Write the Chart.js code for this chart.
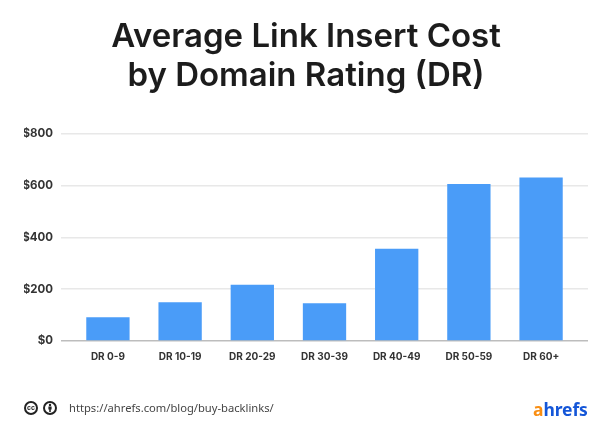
<!DOCTYPE html>
<html lang="en">
<head>
<meta charset="UTF-8">
<title>Average Link Insert Cost</title>
<style>
  html,body{margin:0;padding:0;background:#fff}
  #wrap{position:relative;width:601px;height:438px;overflow:hidden}
  canvas{position:absolute;left:0;top:0}
  .icon{position:absolute;top:401px;width:14px;height:14px;box-sizing:border-box;border:2px solid #222;border-radius:50%;
    font:bold 7px/10px "Liberation Sans",sans-serif;text-align:center;color:#222}
  .icon svg{display:block}
  #url{position:absolute;left:69px;top:400px;font:400 11.2px/16px "Noto Sans",sans-serif;color:#444;white-space:nowrap}
  #logo{position:absolute;left:533px;top:398px;font:bold 17.5px/22px "Noto Sans",sans-serif;color:#1456d8;letter-spacing:-.1px}
  #logo span{color:#f98e12}
</style>
</head>
<body>
<div id="wrap">
  <canvas id="chart" width="601" height="438"></canvas>
  <div class="icon" style="left:24px">cc</div>
  <div class="icon" style="left:43px"><svg width="10" height="10" viewBox="0 0 10 10"><circle cx="5" cy="2" r="1.2" fill="#222"/><path d="M3.4 3.6h3.2v3H5.8v2.4H4.2V6.6H3.4z" fill="#222"/></svg></div>
  <div id="url">https://ahrefs.com/blog/buy-backlinks/</div>
  <div id="logo"><span>a</span>hrefs</div>
</div>
<script src="https://cdn.jsdelivr.net/npm/chart.js"></script>
<script>
const categories=['DR 0-9','DR 10-19','DR 20-29','DR 30-39','DR 40-49','DR 50-59','DR 60+']
const costs=[92,150,217,146,356,606,632]
const titleLines=['Average Link Insert Cost','by Domain Rating (DR)']

new Chart(document.getElementById('chart'),{
  type:'bar',
  data:{
    datasets:[{
      data:costs.map((c,i)=>({x:i,y:c})),
      backgroundColor:'#4a9cf8',
      barPercentage:0.6,
      categoryPercentage:1
    }]
  },
  options:{
    responsive:false,
    animation:false,
    layout:{padding:{left:24,right:13}},
    plugins:{
      legend:{display:false},
      tooltip:{enabled:false},
      title:{
        display:true,
        text:titleLines,
        color:'#1c1c1c',
        font:{family:'Inter',size:33,weight:'600',lineHeight:1.18},
        padding:{top:18,bottom:38}
      }
    },
    scales:{
      x:{
        type:'linear',
        offset:false,
        min:-0.65,
        max:6.65,
        afterBuildTicks:s=>{s.ticks=categories.map((_,i)=>({value:i}))},
        afterFit:s=>{s.height=97},
        grid:{display:false},
        border:{display:false},
        ticks:{
          autoSkip:false,
          maxRotation:0,
          padding:2,
          color:'#333',
          font:{family:'Inter',size:10,weight:'700'},
          callback:v=>categories[v]
        }
      },
      y:{
        min:0,
        max:800,
        afterFit:s=>{s.width=37},
        border:{display:false},
        grid:{
          drawTicks:false,
          lineWidth:1.5,
          color:c=>c.tick.value===0?'#bdbdbd':'#e8e8e8'
        },
        ticks:{
          stepSize:200,
          padding:8,
          color:'#333',
          font:{family:'Inter',size:11.5,weight:'700'},
          callback:v=>'$'+v
        }
      }
    }
  }
})
</script>
</body>
</html>
